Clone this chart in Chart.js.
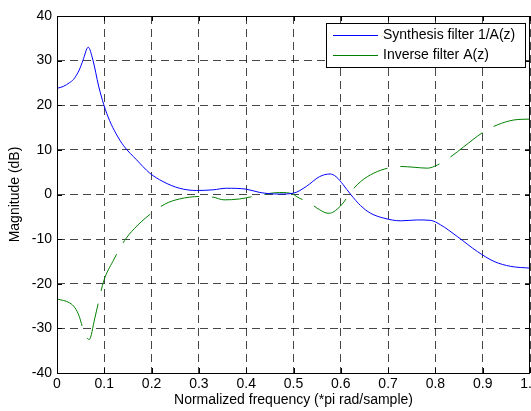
<!DOCTYPE html>
<html>
<head>
<meta charset="utf-8">
<script src="https://cdn.jsdelivr.net/npm/chart.js@4"></script>
<style>
  html, body { margin: 0; padding: 0; background: #fff; }
  #wrap { width: 531px; height: 411px; }
</style>
</head>
<body>
<div id="wrap"><canvas id="chart" width="531" height="411"></canvas></div>
<script>
// values (normalized frequency, dB)
const synthFreq = [0, 0.013, 0.027, 0.035, 0.047, 0.055, 0.066, 0.076, 0.088, 0.099, 0.111, 0.125, 0.141,
  0.168, 0.196, 0.224, 0.259, 0.295, 0.33, 0.358, 0.4, 0.429, 0.47, 0.5, 0.527, 0.555, 0.577, 0.59,
  0.605, 0.621, 0.642, 0.663, 0.691, 0.727, 0.762, 0.79, 0.811, 0.846, 0.889, 0.924, 0.959, 1.0];
const synthDb = [23.8, 24.2, 25.1, 25.8, 27.9, 30.1, 33.0, 30.1, 24.3, 20.1, 16.6, 13.6, 10.9,
  7.8, 4.8, 2.9, 1.4, 0.9, 1.05, 1.4, 1.2, 0.45, 0.1, 0.3, 1.8, 4.0, 4.6, 4.0,
  2.2, 0.0, -2.5, -4.2, -5.3, -5.9, -5.7, -5.8, -6.8, -9.4, -12.8, -15.0, -16.1, -16.5];

const inverseFreq = [0, 0.027, 0.038, 0.047, 0.055, 0.068, 0.08, 0.091, 0.099, 0.118, 0.143, 0.163,
  0.196, 0.229, 0.259, 0.302, 0.33, 0.353, 0.386, 0.414, 0.443, 0.471, 0.499, 0.507, 0.534, 0.555,
  0.573, 0.583, 0.605, 0.619, 0.642, 0.67, 0.699, 0.723, 0.755, 0.783, 0.804, 0.833, 0.86, 0.903,
  0.931, 0.966, 1.0];
const inverseDb = [-23.4, -24.3, -25.4, -27.3, -30.1, -32.5, -27.7, -22.6, -19.3, -15.0, -10.3, -7.7,
  -4.5, -2.1, -1.0, -0.45, -0.6, -1.2, -1.0, -0.45, 0.15, 0.45, 0.1, -0.5, -1.9, -3.4,
  -4.2, -4.0, -1.9, 0.3, 2.9, 4.8, 5.9, 6.3, 6.1, 5.9, 6.6, 8.5, 10.7, 14.1,
  15.6, 16.7, 16.9];

const seriesNames = ['Synthesis filter 1/A(z)', 'Inverse filter A(z)'];
const seriesColors = ['#0000ff', '#008000'];
const xTitle = 'Normalized frequency (*pi rad/sample)';
const yTitle = 'Magnitude (dB)';

const FONT = "'Liberation Sans', Arial, sans-serif";

function toPoints(xs, ys) {
  return xs.map((x, i) => ({ x: x, y: ys[i] }));
}

// axes box + inward ticks like the matlab figure
const boxPlugin = {
  id: 'box',
  afterDatasetsDraw(chart) {
    const { ctx, chartArea: a, scales } = chart;
    ctx.save();
    ctx.strokeStyle = '#000';
    ctx.lineWidth = 1;
    ctx.beginPath();
    scales.x.ticks.forEach(t => {
      const px = Math.round(scales.x.getPixelForValue(t.value)) + 0.5;
      ctx.moveTo(px, a.bottom); ctx.lineTo(px, a.bottom - 5);
      ctx.moveTo(px, a.top); ctx.lineTo(px, a.top + 5);
    });
    scales.y.ticks.forEach(t => {
      const py = Math.round(scales.y.getPixelForValue(t.value)) + 0.5;
      ctx.moveTo(a.left, py); ctx.lineTo(a.left + 5, py);
      ctx.moveTo(a.right, py); ctx.lineTo(a.right - 5, py);
    });
    ctx.stroke();
    ctx.strokeRect(Math.round(a.left) + 0.5, Math.round(a.top) + 0.5,
      Math.round(a.right - a.left) - 1, Math.round(a.bottom - a.top));
    ctx.restore();
  },
  afterDraw(chart) {
    // legend box in the top-right corner
    const { ctx, chartArea: a } = chart;
    const w = 199, h = 44;
    const x0 = Math.round(a.right - 5 - w), y0 = Math.round(a.top + 7);
    ctx.save();
    ctx.fillStyle = '#fff';
    ctx.fillRect(x0, y0, w, h);
    ctx.strokeStyle = '#000';
    ctx.lineWidth = 1;
    ctx.strokeRect(x0 + 0.5, y0 + 0.5, w, h);
    ctx.font = '14px ' + FONT;
    ctx.textBaseline = 'middle';
    chart.data.datasets.forEach((ds, i) => {
      const y = y0 + 12 + i * 20;
      ctx.fillStyle = seriesColors[i];
      ctx.fillRect(x0 + 7, y, 45, 1);
      ctx.fillStyle = '#000';
      ctx.fillText(ds.label, x0 + 57, y);
    });
    ctx.restore();
  }
};

const gridStyle = {
  color: 'rgba(0,0,0,0.72)',
  lineWidth: 1,
  drawTicks: false
};

new Chart(document.getElementById('chart'), {
  type: 'line',
  data: {
    datasets: [
      {
        label: seriesNames[0],
        data: toPoints(synthFreq, synthDb),
        borderColor: seriesColors[0],
        borderWidth: 1,
        pointRadius: 0,
        cubicInterpolationMode: 'monotone'
      },
      {
        label: seriesNames[1],
        data: toPoints(inverseFreq, inverseDb),
        borderColor: seriesColors[1],
        borderWidth: 1,
        borderDash: [40, 13],
        pointRadius: 0,
        cubicInterpolationMode: 'monotone'
      }
    ]
  },
  options: {
    responsive: false,
    animation: false,
    layout: { padding: { top: 16, right: 1, left: 0, bottom: 0 } },
    plugins: { legend: { display: false }, tooltip: { enabled: false } },
    scales: {
      x: {
        type: 'linear',
        min: 0, max: 1,
        grid: gridStyle,
        border: { display: false, dash: [8, 5] },
        ticks: {
          stepSize: 0.1,
          padding: 3,
          color: '#000',
          maxRotation: 0,
          autoSkip: false,
          font: { family: FONT, size: 14 }
        },
        title: {
          display: true,
          text: xTitle,
          color: '#000',
          padding: { top: 0, bottom: 2 },
          font: { family: FONT, size: 14 }
        },
        afterFit(axis) {
          axis.height = 38;
          axis.paddingLeft = 0;
          axis.paddingRight = 0;
        }
      },
      y: {
        min: -40, max: 40,
        grid: gridStyle,
        border: { display: false, dash: [8, 5] },
        ticks: {
          stepSize: 10,
          padding: 5,
          color: '#000',
          font: { family: FONT, size: 14 }
        },
        title: {
          display: true,
          text: yTitle,
          color: '#000',
          padding: { top: 7, bottom: 0 },
          font: { family: FONT, size: 14 }
        },
        afterFit(axis) {
          axis.width = 57;
          axis.paddingTop = 0;
          axis.paddingBottom = 0;
        }
      }
    }
  },
  plugins: [boxPlugin]
});
</script>
</body>
</html>
